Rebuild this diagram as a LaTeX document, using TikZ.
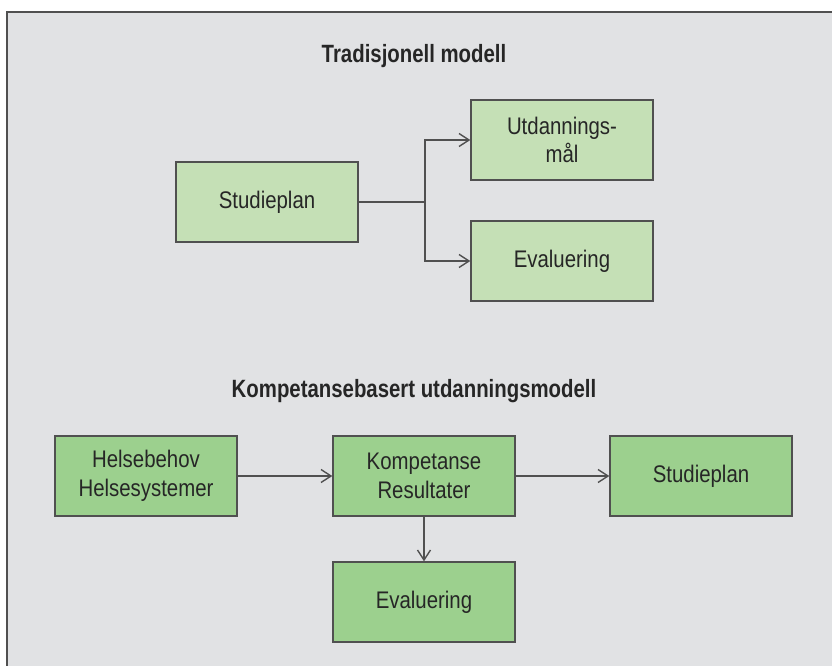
\documentclass[tikz,border=0pt]{standalone}
\usepackage{fontspec}
\setmainfont{Liberation Sans}[FakeStretch=0.85]
\newfontfamily\titlefont{Liberation Sans}[FakeStretch=0.815]
\usepackage{tikz}
\usetikzlibrary{arrows.meta}
\definecolor{bggray}{RGB}{225, 226, 228}
\definecolor{lightgreen}{RGB}{197, 224, 182}
\definecolor{midgreen}{RGB}{156, 208, 142}
\definecolor{edgegray}{RGB}{80, 80, 80}
\definecolor{textgray}{RGB}{38, 38, 38}

\begin{document}
\begin{tikzpicture}[x = 1pt, y = -1pt,
  box/.style = {draw = edgegray, line width = 1.4pt, minimum width = 182pt, minimum height = 80pt,
    align = center, text = textgray, font = \fontsize{24}{28.5}\selectfont, inner sep = 0pt},
  oldbox/.style = {box, fill = lightgreen},
  newbox/.style = {box, fill = midgreen},
  heading/.style = {text = textgray, anchor = base, inner sep = 0pt,
    font = \titlefont\bfseries\fontsize{25}{30}\selectfont},
  link/.style = {draw = edgegray, line width = 1.4pt, -{Straight Barb[length=10pt, width=13pt]}}]

\useasboundingbox (0,0) rectangle (832,665);
\draw[fill = bggray, draw = edgegray, line width = 1.5pt] (7,12) rectangle (845,680);

% tradisjonell modell
\node[heading] (title1) at (414,62) {Tradisjonell modell};
\node[oldbox] (plan1) at (267,202) {Studieplan};
\node[oldbox] (maal) at (562,140) {Utdannings-\\mål};
\node[oldbox] (eval1) at (562,261) {Evaluering};
\coordinate (split) at (425,202);
\draw[link, -] (plan1.east) -- (split);
\draw[link] (split) |- (maal.west);
\draw[link] (split) |- (eval1.west);

% kompetansebasert modell
\node[heading] (title2) at (414,397) {Kompetansebasert utdanningsmodell};
\node[newbox] (behov) at (146,476) {Helsebehov\\Helsesystemer};
\node[newbox] (komp) at (424,476) {Kompetanse\\Resultater};
\node[newbox] (plan2) at (701,476) {Studieplan};
\node[newbox] (eval2) at (424,602) {Evaluering};
\draw[link] (behov) -- (komp);
\draw[link] (komp) -- (plan2);
\draw[link] (komp) -- (eval2);

\end{tikzpicture}
\end{document}
